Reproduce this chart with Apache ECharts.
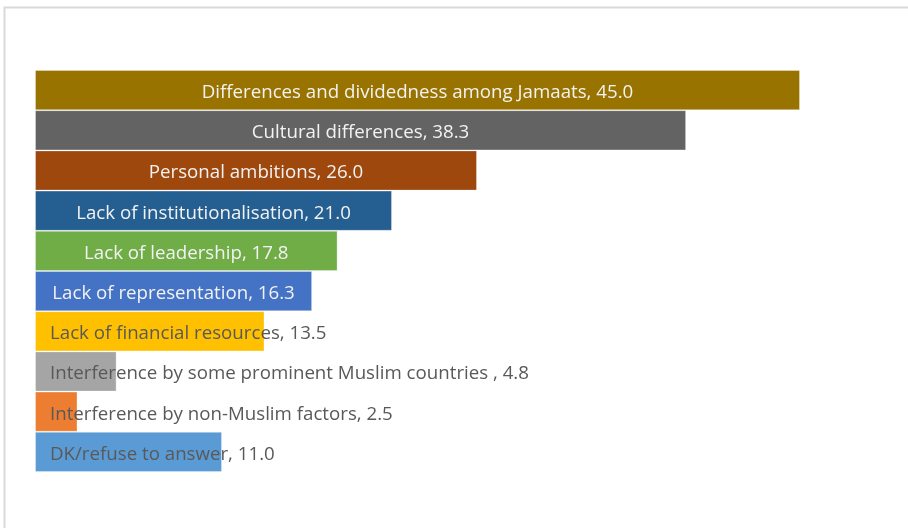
<!DOCTYPE html>
<html>
<head>
<meta charset="utf-8">
<script src="https://cdn.jsdelivr.net/npm/echarts@6/dist/echarts.min.js"></script>
<style>
  html, body { margin: 0; padding: 0; background: #ffffff; }
  #chart { width: 908px; height: 528px; }
</style>
</head>
<body>
<div id="chart"></div>
<script>
// Reasons cited, share of respondents (%)
const categories = [
  'Differences and dividedness among Jamaats',
  'Cultural differences',
  'Personal ambitions',
  'Lack of institutionalisation',
  'Lack of leadership',
  'Lack of representation',
  'Lack of financial resources',
  'Interference by some prominent Muslim countries ',
  'Interference by non-Muslim factors',
  'DK/refuse to answer'
];
const values = [45.0, 38.3, 26.0, 21.0, 17.8, 16.3, 13.5, 4.8, 2.5, 11.0];
const barColors = [
  '#997300', '#636363', '#9e480e', '#255e91', '#70ad47',
  '#4472c4', '#ffc000', '#a5a5a5', '#ed7d31', '#5b9bd5'
];
// Bars whose label is centred in white; the rest start at the left in grey
const centredCount = 6;

const fontFamily = '"Open Sans", sans-serif';

const seriesData = values.map((v, i) => {
  const centred = i < centredCount;
  return {
    value: v,
    itemStyle: { color: barColors[i] },
    label: centred
      ? { position: 'inside', color: '#f2f2f2' }
      : { position: 'insideLeft', distance: 15, color: '#595959' }
  };
});

const chart = echarts.init(document.getElementById('chart'), null, { renderer: 'canvas' });
chart.setOption({
  animation: false,
  backgroundColor: '#ffffff',
  graphic: [{
    type: 'rect',
    shape: { x: 4.5, y: 7.5, width: 1000, height: 1000 },
    style: { fill: 'none', stroke: '#d9d9d9', lineWidth: 2 },
    silent: true,
    z: -1
  }],
  grid: { left: 35, top: 70, width: 850, height: 402, containLabel: false },
  xAxis: {
    type: 'value', min: 0, max: 50,
    show: false
  },
  yAxis: {
    type: 'category',
    data: categories,
    inverse: true,
    show: false
  },
  series: [{
    type: 'bar',
    data: seriesData,
    barWidth: '100%',
    barCategoryGap: 0,
    itemStyle: { borderColor: 'rgba(255,255,255,0.3)', borderWidth: 1 },
    label: {
      show: true,
      fontFamily: fontFamily,
      fontSize: 18.7,
      offset: [0, 2.5],
      formatter: p => p.name + ', ' + p.value.toFixed(1)
    }
  }]
});
</script>
</body>
</html>
